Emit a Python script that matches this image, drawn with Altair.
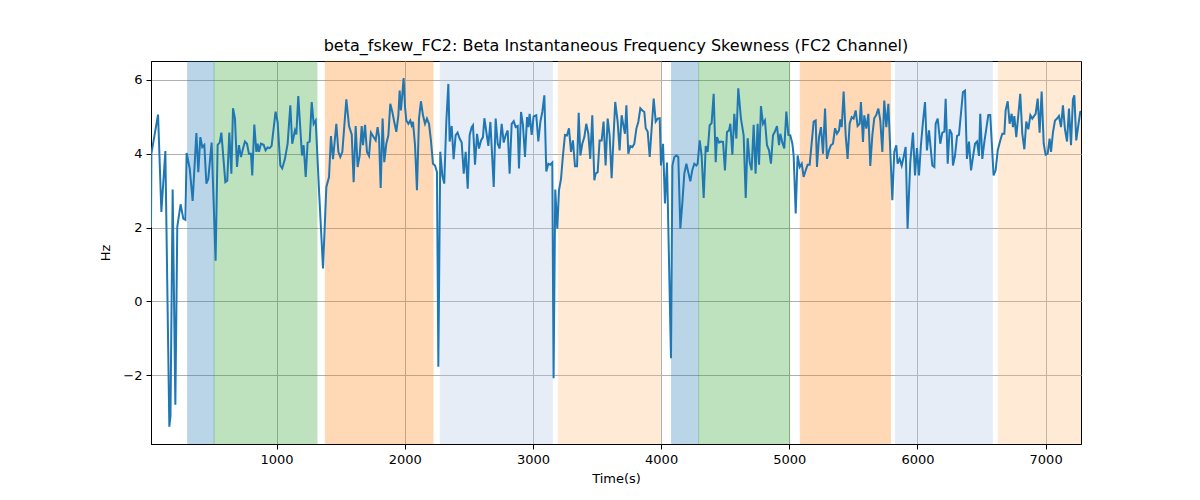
import pandas as pd
import altair as alt

# time axis (s) and beta skewness values (Hz)
time_s = [20, 23, 75, 101, 132, 163, 172, 189, 210, 225, 251, 272, 288, 298,
          322, 345, 374, 389, 405, 420, 436, 452, 467, 493, 524, 540, 556, 569,
          600, 615, 631, 647, 660, 675, 691, 706, 722, 738, 753, 769, 784, 800,
          810, 826, 842, 852, 862, 878, 899, 914, 930, 946, 961, 992, 1008, 1029,
          1044, 1065, 1086, 1107, 1122, 1143, 1154, 1169,
          1198, 1211, 1227, 1242, 1258, 1274, 1289, 1305, 1333, 1362, 1388, 1409,
          1424, 1440, 1466, 1482, 1497, 1513, 1544, 1565, 1586, 1601, 1617, 1632,
          1648, 1664, 1674, 1690, 1705, 1721, 1736, 1757, 1773, 1788, 1799, 1812,
          1827, 1840, 1856, 1872, 1887, 1903, 1918, 1934, 1950, 1960, 1970, 1981,
          1991, 2002, 2012, 2028, 2043, 2054, 2064, 2080, 2095, 2111, 2126, 2142,
          2158, 2173, 2189, 2204, 2220, 2236, 2251, 2262, 2277, 2293, 2308, 2324,
          2340, 2350, 2366, 2381, 2397, 2412, 2428,
          2444, 2460, 2475, 2491, 2506, 2522, 2532, 2548, 2564, 2579, 2595, 2610,
          2621, 2636, 2652, 2668, 2694, 2709, 2725, 2740, 2756, 2772, 2787, 2803,
          2818, 2834, 2850, 2865, 2881, 2891, 2907, 2922, 2938, 2954, 2964, 2974,
          2990, 3005, 3026, 3042, 3058, 3073, 3089, 3104, 3120, 3135, 3151, 3161,
          3174, 3190, 3203, 3219, 3234, 3250, 3266, 3281, 3297, 3312, 3328, 3344,
          3357, 3370, 3385, 3401, 3416, 3432, 3447, 3463, 3479, 3489, 3505, 3520,
          3536, 3551, 3567, 3583, 3598, 3614, 3630, 3642, 3661, 3676,
          3692, 3708, 3718, 3729, 3744, 3760, 3776, 3791, 3807, 3822, 3838, 3854,
          3869, 3880, 3895, 3911, 3942, 3958, 3973, 3989, 3999, 4015, 4030, 4046,
          4077, 4088, 4103, 4119, 4134, 4150, 4166, 4181, 4197, 4212, 4228, 4243,
          4259, 4275, 4285, 4301, 4316, 4332, 4348, 4363, 4379, 4394, 4410, 4426,
          4436, 4452, 4467, 4483, 4498, 4514, 4530, 4540, 4556, 4571, 4587, 4602,
          4623, 4644, 4660, 4675, 4691, 4706, 4722, 4737, 4753, 4764, 4779, 4795,
          4810, 4826, 4842, 4857, 4873, 4888, 4904, 4920,
          4930, 4946, 4961, 4977, 4993, 5008, 5024, 5034, 5050, 5065, 5081, 5097,
          5112, 5128, 5143, 5159, 5190, 5206, 5216, 5232, 5247, 5263, 5279, 5294,
          5310, 5325, 5341, 5357, 5372, 5388, 5398, 5409, 5424, 5440, 5455, 5471,
          5487, 5502, 5518, 5533, 5549, 5559, 5575, 5585, 5601, 5617, 5632, 5648,
          5663, 5679, 5695, 5710, 5726, 5741, 5757, 5773, 5804, 5819, 5835, 5845,
          5861, 5877, 5892, 5908, 5923, 5944, 5965, 5981, 5996, 6012, 6027, 6043,
          6059, 6074, 6090,
          6116, 6132, 6142, 6158, 6178, 6194, 6210, 6220, 6236, 6251, 6267, 6277,
          6293, 6309, 6324, 6355, 6371, 6386, 6402, 6418, 6433, 6449, 6465, 6480,
          6490, 6506, 6522, 6553, 6568, 6594, 6610, 6626, 6646, 6662, 6678, 6688,
          6704, 6719, 6735, 6745, 6756, 6771, 6802, 6818, 6834, 6849, 6865, 6881,
          6896, 6922, 6938, 6953, 6969, 6985, 7000, 7016, 7031, 7042, 7057, 7073,
          7089, 7104, 7120, 7135, 7151, 7167, 7182, 7198, 7213, 7224, 7239, 7255,
          7270, 7276]

hz = [2.0, 4.0, 5.06, 2.42, 4.07, -3.39, -3.1, 3.03, -2.8, 2.02, 2.63, 2.24, 2.21, 4.02,
      3.6, 2.72, 4.56, 3.5, 4.45, 4.18, 4.24, 3.19, 3.32, 4.3, 1.1, 4.24, 4.3, 4.57,
      3.23, 3.27, 4.57, 3.46, 5.23, 4.95, 3.64, 4.23, 3.91, 4.14, 4.33, 4.27, 4.0, 4.0,
      3.41, 4.79, 4.05, 4.27, 4.05, 4.27, 4.24, 4.09, 4.17, 4.15, 4.21, 5.14, 4.86, 3.68,
      3.6, 3.86, 4.27, 5.31, 4.27, 4.63, 4.52, 5.56,
      3.95, 4.23, 3.37, 4.3, 4.33, 5.4, 4.81, 4.9, 2.87, 0.89, 3.1, 3.37,
      4.48, 3.85, 4.81, 4.05, 3.91, 4.05, 5.47, 4.75, 4.52, 3.23, 4.75, 3.64,
      3.95, 4.75, 4.23, 4.78, 4.05, 3.94, 4.57, 4.45, 4.36, 4.72, 4.45, 3.07,
      4.95, 3.77, 4.27, 4.5, 5.35, 5.13, 4.86, 4.59, 5.04, 5.71, 5.17, 5.62,
      6.05, 5.26, 4.9, 4.81, 4.9, 4.77, 4.86, 4.23, 3.01, 4.95, 5.42, 5.04,
      4.81, 4.95, 4.81, 4.36, 3.73, 3.68, 3.5, -1.77, 4.05, 3.41, 3.19, 4.86,
      5.89, 4.33, 4.75, 3.85, 4.5, 4.57, 4.41,
      4.3, 3.46, 4.05, 3.05, 4.5, 4.72, 4.77, 3.7, 4.54, 4.14, 4.36, 4.45,
      4.96, 4.6, 4.21, 4.86, 3.1, 4.95, 4.27, 4.14, 4.81, 4.3, 4.5, 4.63,
      3.46, 4.81, 4.88, 4.72, 4.75, 3.6, 5.13, 4.78, 3.91, 4.99, 4.72, 5.08,
      4.51, 5.01, 5.04, 4.33, 4.87, 5.13, 5.58, 3.52, 3.73, 3.7, 3.76, -2.08,
      3.03, 1.97, 3.01, 3.32, 3.95, 4.51, 4.5, 4.69, 4.05, 4.36, 3.66, 3.66,
      5.11, 3.95, 4.27, 4.45, 4.81, 4.54, 3.86, 5.04, 3.28, 3.46, 3.5, 4.36,
      4.36, 4.87, 3.68, 4.95, 4.5, 3.34, 4.54, 5.4, 4.86, 4.09,
      5.04, 4.72, 4.54, 5.31, 4.0, 4.21, 4.18, 4.27, 4.68, 4.86, 5.23, 5.17,
      5.13, 4.69, 4.6, 3.91, 5.49, 4.87, 4.95, 4.96, 3.68, 4.27, 2.65, 3.76,
      -1.54, 3.68, 3.91, 3.95, 3.91, 1.97, 2.69, 3.46, 3.73, 3.5, 3.25, 3.55,
      3.73, 3.68, 3.73, 4.36, 3.95, 2.8, 4.21, 4.05, 4.77, 4.83, 5.62, 3.77,
      4.45, 4.3, 4.33, 4.32, 3.55, 4.59, 4.63, 4.81, 3.97, 5.08, 4.41, 5.77,
      4.95, 4.5, 2.8, 4.42, 3.77, 3.55, 4.78, 3.46, 4.81, 3.7, 5.29, 4.81,
      4.9, 4.23, 4.09, 3.73, 4.5, 4.6, 4.75, 4.23,
      4.54, 4.3, 4.14, 5.14, 4.51, 4.5, 4.27, 3.95, 2.38, 3.95, 3.64, 3.73,
      3.37, 3.55, 3.7, 3.7, 4.87, 4.9, 3.64, 4.45, 4.72, 4.0, 5.22, 3.86,
      4.09, 4.23, 4.27, 4.69, 4.54, 4.63, 4.93, 4.72, 5.68, 4.5, 3.86, 4.81,
      4.99, 4.95, 5.17, 4.75, 4.81, 5.4, 4.32, 5.04, 4.68, 5.08, 3.67, 4.5,
      4.96, 5.05, 5.22, 4.9, 4.05, 5.44, 4.72, 5.35, 2.74, 4.05, 4.23, 3.73,
      3.86, 3.68, 3.91, 4.18, 1.97, 3.77, 4.57, 3.41, 4.15, 3.41, 4.23, 4.86,
      5.4, 4.09, 4.63,
      3.68, 3.64, 4.81, 4.95, 4.27, 4.57, 4.6, 5.49, 3.73, 4.66, 4.54, 3.68,
      3.95, 4.48, 4.51, 5.67, 5.71, 3.86, 4.33, 3.55, 3.91, 4.27, 4.33, 3.94,
      5.08, 3.86, 4.32, 5.05, 5.05, 3.41, 3.55, 4.09, 4.36, 4.54, 4.54, 5.17,
      5.42, 4.81, 5.08, 4.72, 5.02, 4.45, 5.62, 4.54, 4.12, 4.87, 4.66, 5.04,
      4.95, 5.08, 5.49, 4.57, 5.68, 4.27, 3.97, 4.0, 4.41, 4.05, 4.57, 4.9,
      4.95, 5.02, 4.72, 5.31, 4.66, 4.33, 5.22, 4.23, 5.47, 5.58, 4.36, 4.77,
      5.13, 5.15]

# shaded phases
span_start = [306, 512, 1380, 2277, 3198, 4082, 4293, 5086, 5828, 6631]
span_end = [512, 1315, 2220, 3151, 3997, 4293, 5003, 5789, 6584, 7276]
span_color = ["#1f77b4", "#2ca02c", "#ff7f0e", "#aec7e8", "#ffbb78",
              "#1f77b4", "#2ca02c", "#ff7f0e", "#aec7e8", "#ffbb78"]

line_df = pd.DataFrame({"t": time_s, "hz": hz})
span_df = pd.DataFrame({"start": span_start, "end": span_end, "c": span_color})

W, H = 930, 383
xscale = alt.Scale(domain=[20, 7276], nice=False, zero=False)
yscale = alt.Scale(domain=[-3.86, 6.51], nice=False, zero=False)

spans = alt.Chart(span_df).mark_rect(opacity=0.3, strokeWidth=1, clip=True).encode(
    x=alt.X("start:Q", scale=xscale),
    x2="end:Q",
    y=alt.value(0),
    y2=alt.value(H),
    color=alt.Color("c:N", scale=None),
    stroke=alt.Stroke("c:N", scale=None),
)

line = alt.Chart(line_df).mark_line(color="#1f77b4", strokeWidth=2, clip=True).encode(
    x=alt.X("t:Q", scale=xscale, title="Time(s)",
            axis=alt.Axis(values=[1000, 2000, 3000, 4000, 5000, 6000, 7000], format="d")),
    y=alt.Y("hz:Q", scale=yscale, title="Hz",
            axis=alt.Axis(values=[-2, 0, 2, 4, 6], format="d", titlePadding=10)),
)

chart = (spans + line).properties(
    width=W, height=H,
    title=alt.TitleParams("beta_fskew_FC2: Beta Instantaneous Frequency Skewness (FC2 Channel)",
                          fontSize=16, fontWeight="normal", font="DejaVu Sans",
                          color="black", offset=7),
    padding={"left": 143, "top": 53, "right": 100, "bottom": 40},
    autosize="none",
).configure_axis(
    grid=True, gridColor="#b0b0b0", gridWidth=1,
    domainColor="black", tickColor="black", tickSize=5,
    labelFont="DejaVu Sans", labelFontSize=13, labelColor="black", labelPadding=4,
    titleFont="DejaVu Sans", titleFontSize=13, titleFontWeight="normal", titleColor="black",
).configure_axisX(titlePadding=6).configure_view(stroke="black", strokeWidth=1)

chart.save("out.html", embed_options={"renderer": "svg", "actions": False})
